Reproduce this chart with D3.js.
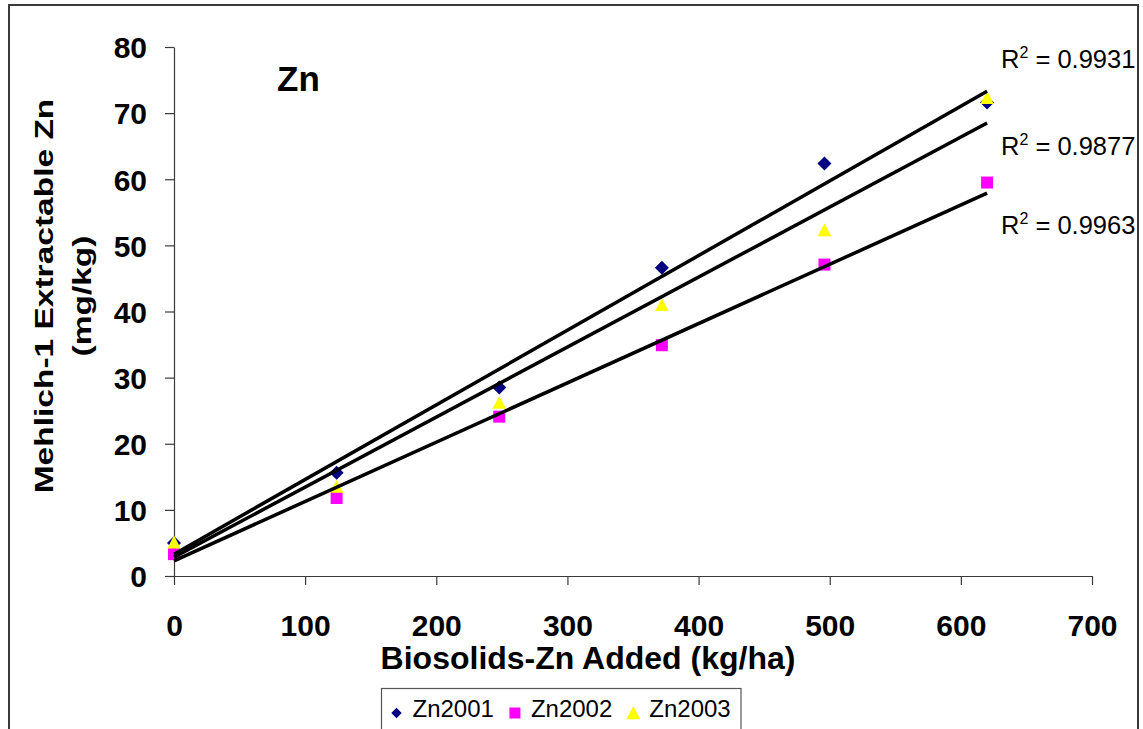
<!DOCTYPE html>
<html>
<head>
<meta charset="utf-8">
<script src="https://cdn.jsdelivr.net/npm/d3@7"></script>
<style>
  html, body { margin: 0; padding: 0; background: #fff; }
  svg { display: block; }
  text { font-family: "Liberation Sans", Arial, sans-serif; fill: #000; }
</style>
</head>
<body>
<svg id="chart" width="1143" height="729"></svg>
<script>
// ---------------- data ----------------
const xValues = [0, 124, 248, 372, 496, 620];
const seriesNames = ["Zn2001", "Zn2002", "Zn2003"];
const zn2001 = [5.0, 15.6, 28.5, 46.6, 62.4, 71.6];
const zn2002 = [3.3, 11.8, 24.1, 34.9, 47.1, 59.5];
const zn2003 = [5.1, 13.5, 26.2, 41.0, 52.3, 72.3];
const seriesColors = ["#000080", "#FF00FF", "#FFFF00"];
const seriesShapes = ["diamond", "square", "triangle"];

// linear trend lines: value at x=0 and at x=620
const trendSeries = ["Zn2001", "Zn2003", "Zn2002"];
const trendStartY = [3.3, 2.85, 2.3];
const trendEndY = [73.3, 68.5, 57.9];
const trendXRange = [0, 620];
const r2Labels = ["0.9931", "0.9877", "0.9963"];

const xTicks = [0, 100, 200, 300, 400, 500, 600, 700];
const yTicks = [0, 10, 20, 30, 40, 50, 60, 70, 80];
const chartTitle = "Zn";
const xTitle = "Biosolids-Zn Added (kg/ha)";
const yTitleLines = ["Mehlich-1 Extractable Zn", "(mg/kg)"];

// ---------------- drawing ----------------
const svg = d3.select("#chart");
const W = 1143, H = 729;
svg.append("rect").attr("width", W).attr("height", H).attr("fill", "#fff");

// outer chart border
svg.append("rect")
  .attr("x", 9).attr("y", 5).attr("width", 1129).attr("height", 760)
  .attr("fill", "none").attr("stroke", "#3a3a3a").attr("stroke-width", 2);

const x = d3.scaleLinear().domain([0, 700]).range([174, 1092]);
const y = d3.scaleLinear().domain([0, 80]).range([576, 47]);

const FONT = '"Liberation Sans", Arial, sans-serif';

// axes
const xAxis = svg.append("g").attr("transform", `translate(0,${y(0)})`)
  .call(d3.axisBottom(x).tickValues(xTicks).tickSize(9).tickSizeOuter(0).tickPadding(30).tickFormat(d3.format("d")));
const yAxis = svg.append("g").attr("transform", `translate(${x(0)},0)`)
  .call(d3.axisLeft(y).tickValues(yTicks).tickSize(9).tickSizeOuter(0).tickPadding(18).tickFormat(d3.format("d")));
[xAxis, yAxis].forEach(g => {
  g.select(".domain").attr("stroke", "#3a3a3a").attr("stroke-width", 1.2);
  g.selectAll(".tick line").attr("stroke", "#3a3a3a").attr("stroke-width", 1.2);
  g.selectAll(".tick text").attr("font-family", FONT).attr("font-size", 30)
    .attr("font-weight", "bold").attr("fill", "#000");
});
xAxis.selectAll(".tick text").attr("dy", null).attr("y", 60);
yAxis.selectAll(".tick text").attr("dy", "0.36em");

// marker path generator
function markerPath(shape, s) {
  if (shape === "diamond") return `M0,${-s}L${s},0L0,${s}L${-s},0Z`;
  if (shape === "square") return `M${-s},${-s}H${s}V${s}H${-s}Z`;
  return `M0,${-s}L${s},${s * 0.9}L${-s},${s * 0.9}Z`;
}
const markerSize = { diamond: 7, square: 6, triangle: 6.8 };
const legendMarkerSize = { diamond: 5.2, square: 5.5, triangle: 7 };

// data points
const allSeries = [zn2001, zn2002, zn2003];
allSeries.forEach((vals, i) => {
  svg.append("g").selectAll("path")
    .data(vals.map((v, j) => [xValues[j], v]))
    .join("path")
    .attr("transform", d => `translate(${x(d[0])},${y(d[1])})`)
    .attr("d", markerPath(seriesShapes[i], markerSize[seriesShapes[i]]))
    .attr("fill", seriesColors[i]);
});

// trend lines
const line = d3.line().x(d => x(d[0])).y(d => y(d[1]));
trendSeries.forEach((name, i) => {
  svg.append("path")
    .attr("d", line([[trendXRange[0], trendStartY[i]], [trendXRange[1], trendEndY[i]]]))
    .attr("stroke", "#000").attr("stroke-width", 3.5).attr("fill", "none");
});

// R² labels
const r2Baselines = [68, 155, 234];
r2Labels.forEach((lab, i) => {
  const t = svg.append("text").attr("x", 1001).attr("y", r2Baselines[i])
    .attr("font-size", 25.5).attr("font-family", FONT);
  t.append("tspan").text("R");
  t.append("tspan").attr("font-size", 16).attr("dy", -10).text("2");
  t.append("tspan").attr("dy", 10).text(" = " + lab);
});

// chart title
svg.append("text").attr("x", 277).attr("y", 91)
  .attr("font-size", 35).attr("font-weight", "bold").attr("font-family", FONT)
  .text(chartTitle);

// x title
svg.append("text").attr("x", 588).attr("y", 669).attr("text-anchor", "middle")
  .attr("font-size", 32).attr("font-weight", "bold").attr("font-family", FONT)
  .text(xTitle);

// y title (two lines, rotated)
const yt = svg.append("g").attr("transform", "translate(53,296) rotate(-90) scale(1,0.76)");
yTitleLines.forEach((l, i) => {
  yt.append("text").attr("x", 0).attr("y", i * 50).attr("text-anchor", "middle")
    .attr("font-size", 33.5).attr("font-weight", "bold").attr("font-family", FONT)
    .text(l);
});

// legend
const lg = svg.append("g");
lg.append("rect").attr("x", 381.5).attr("y", 688.5).attr("width", 359.5).attr("height", 70)
  .attr("fill", "#fff").attr("stroke", "#555").attr("stroke-width", 1.2);
let cx = 396.5;
seriesNames.forEach((name, i) => {
  lg.append("path")
    .attr("transform", `translate(${cx},${713})`)
    .attr("d", markerPath(seriesShapes[i], legendMarkerSize[seriesShapes[i]]))
    .attr("fill", seriesColors[i]);
  const t = lg.append("text").attr("x", cx + 16).attr("y", 717)
    .attr("font-size", 24).attr("font-family", FONT).text(name);
  cx = cx + 16 + t.node().getComputedTextLength() + 21;
});
</script>
</body>
</html>
